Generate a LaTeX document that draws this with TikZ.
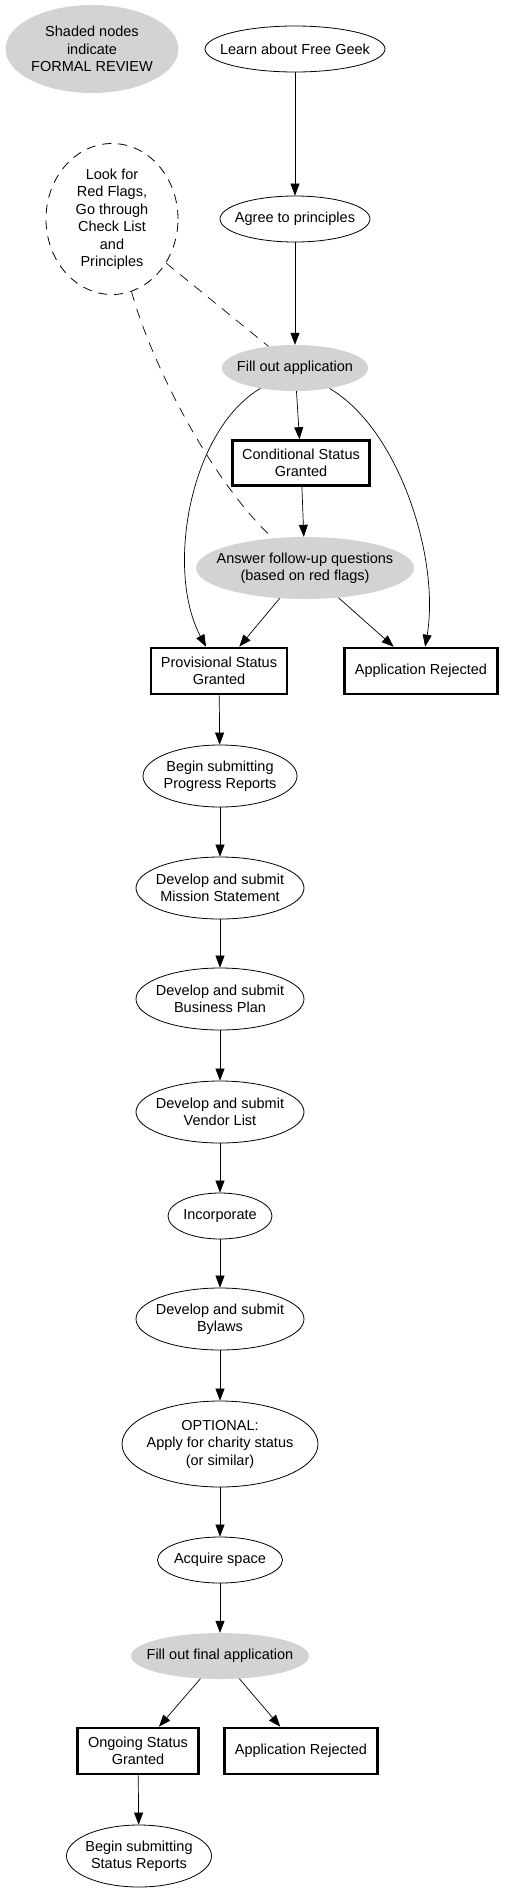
\documentclass[tikz,border=0pt]{standalone}
\usepackage{fontspec}
\setmainfont{Liberation Sans}
\usepackage{tikz}
\usetikzlibrary{shapes.geometric, arrows.meta}
\definecolor{shadegray}{RGB}{211, 211, 211}

\begin{document}
\begin{tikzpicture}[
  x=1pt, y=-1pt,
  every node/.style={font=\fontsize{14.5}{17.5}\selectfont, align=center, inner sep=0pt},
  ell_plain/.style={ellipse, draw=black, line width=0.8pt, inner xsep=-20pt, inner ysep=-4pt},
  ell_shade/.style={ellipse, fill=shadegray, inner xsep=-20pt, inner ysep=-4pt},
  box_status/.style={rectangle, draw=black, line width=2.6pt},
  circ_note/.style={ellipse, draw=black, line width=0.8pt, dash pattern=on 9pt off 7pt, inner xsep=-20pt, inner ysep=-4pt},
  arr/.style={-{Triangle[length=12pt, width=9pt]}, line width=0.7pt},
  darr/.style={dash pattern=on 10pt off 8pt, line width=0.7pt}
]
\useasboundingbox (0, 0) rectangle (504, 1893);

% Legend & Note
\node[ell_shade, minimum width=173pt, minimum height=88pt] (legend) at (92, 49) {Shaded nodes\\indicate\\FORMAL REVIEW};
\node[circ_note, minimum width=132pt, minimum height=151pt] (lookfor) at (112, 219) {Look for\\Red Flags,\\Go through\\Check List\\and\\Principles};

% Application
\node[ell_plain, minimum width=180pt, minimum height=46pt] (learn) at (295, 49) {Learn about Free Geek};
\node[ell_plain, minimum width=150pt, minimum height=46pt] (agree) at (295, 219) {Agree to principles};
\node[ell_shade, minimum width=146pt, minimum height=46pt] (fillapp) at (295, 368) {Fill out application};
\node[box_status, minimum width=137pt, minimum height=45pt] (cond) at (301, 463) {Conditional Status\\Granted};
\node[ell_shade, minimum width=218pt, minimum height=62pt] (answer) at (305, 568) {Answer follow-up questions\\(based on red flags)};
\node[box_status, minimum width=136pt, minimum height=46pt] (prov) at (219, 671) {Provisional Status\\Granted};
\node[box_status, minimum width=153pt, minimum height=46pt] (rej_first) at (421, 671) {Application Rejected};

% Provisional Steps
\node[ell_plain, minimum width=154pt, minimum height=62pt] (progress) at (220, 776) {Begin submitting\\Progress Reports};
\node[ell_plain, minimum width=168pt, minimum height=62pt] (mission) at (220, 888) {Develop and submit\\Mission Statement};
\node[ell_plain, minimum width=168pt, minimum height=62pt] (business) at (220, 999) {Develop and submit\\Business Plan};
\node[ell_plain, minimum width=168pt, minimum height=62pt] (vendor) at (220, 1112) {Develop and submit\\Vendor List};
\node[ell_plain, minimum width=104pt, minimum height=46pt] (incorp) at (220, 1216) {Incorporate};
\node[ell_plain, minimum width=168pt, minimum height=62pt] (bylaws) at (220, 1319) {Develop and submit\\Bylaws};
\node[ell_plain, minimum width=196pt, minimum height=86pt] (optional) at (220, 1444) {OPTIONAL:\\Apply for charity status\\(or similar)};
\node[ell_plain, minimum width=125pt, minimum height=46pt] (acquire) at (220, 1560) {Acquire space};

% Final Review
\node[ell_shade, minimum width=178pt, minimum height=46pt] (fillfinal) at (220, 1656) {Fill out final application};
\node[box_status, minimum width=121pt, minimum height=46pt] (ongoing) at (138, 1751) {Ongoing Status\\Granted};
\node[box_status, minimum width=153pt, minimum height=46pt] (rej_second) at (301, 1751) {Application Rejected};
\node[ell_plain, minimum width=145pt, minimum height=62pt] (status) at (139, 1856) {Begin submitting\\Status Reports};

% Edges - Application
\draw[arr] (learn) -- (agree);
\draw[arr] (agree) -- (fillapp);
\draw[arr] (fillapp) -- (cond);
\draw[arr] (cond) -- (answer);
\draw[arr] (fillapp) .. controls (190, 430) and (165, 570) .. (prov);
\draw[arr] (fillapp) .. controls (400, 430) and (440, 560) .. (rej_first);
\draw[arr] (answer) -- (prov);
\draw[arr] (answer) -- (rej_first);

% Note links
\draw[darr] (lookfor) -- (fillapp);
\draw[darr] (lookfor) .. controls (150, 360) and (210, 480) .. (answer);

% Edges - Provisional
\draw[arr] (prov) -- (progress);
\draw[arr] (progress) -- (mission);
\draw[arr] (mission) -- (business);
\draw[arr] (business) -- (vendor);
\draw[arr] (vendor) -- (incorp);
\draw[arr] (incorp) -- (bylaws);
\draw[arr] (bylaws) -- (optional);
\draw[arr] (optional) -- (acquire);
\draw[arr] (acquire) -- (fillfinal);

% Edges - Final
\draw[arr] (fillfinal) -- (ongoing);
\draw[arr] (fillfinal) -- (rej_second);
\draw[arr] (ongoing) -- (status);

\end{tikzpicture}
\end{document}
